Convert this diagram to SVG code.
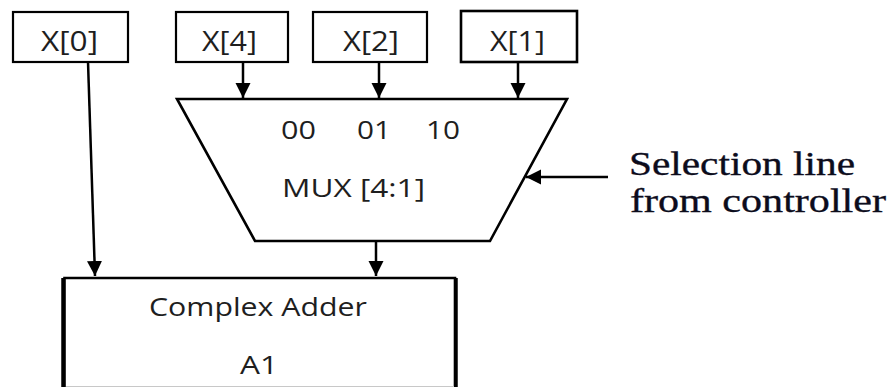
<svg xmlns="http://www.w3.org/2000/svg" width="890" height="387" viewBox="0 0 890 387">
<style>
.box{fill:#fff;stroke:#000;stroke-width:2.2}
.lbl{font-family:"Open Sans","Liberation Sans",sans-serif;font-size:26px;fill:#1e1e1e}
.big{font-size:27px}
.ser{font-family:"Liberation Serif","Times New Roman",serif;font-size:34px;fill:#0c0c1c;stroke:#0c0c1c;stroke-width:0.35}
.wire{stroke:#000;stroke-width:2.5;fill:none}
</style>
<defs>
<marker id="ah" viewBox="0 0 16 16" refX="16" refY="8" markerWidth="15" markerHeight="16" markerUnits="userSpaceOnUse" orient="auto">
<path d="M0,0 L16,8 L0,16 z" fill="#000"/>
</marker>
</defs>
<rect width="890" height="387" fill="#fff"/>
<g id="x0">
<rect class="box" x="13" y="12" width="115" height="50"/>
<text class="lbl big" x="41" y="51" textLength="57" lengthAdjust="spacingAndGlyphs">X[0]</text>
</g>
<g id="x4">
<rect class="box" x="176" y="12" width="112" height="50"/>
<text class="lbl big" x="202" y="51" textLength="55" lengthAdjust="spacingAndGlyphs">X[4]</text>
</g>
<g id="x2">
<rect class="box" x="313" y="12" width="114" height="50"/>
<text class="lbl big" x="343" y="51" textLength="56" lengthAdjust="spacingAndGlyphs">X[2]</text>
</g>
<g id="x1">
<rect class="box" x="461" y="11" width="116" height="51" style="stroke-width:2.6"/>
<text class="lbl big" x="490" y="51" textLength="55" lengthAdjust="spacingAndGlyphs">X[1]</text>
</g>
<g id="mux">
<polygon points="177,99 567,99 490,241 255,241" fill="#fff" stroke="#000" stroke-width="2.6" stroke-linejoin="miter"/>
<text class="lbl" x="281" y="139" textLength="35" lengthAdjust="spacingAndGlyphs">00</text>
<text class="lbl" x="357" y="139" textLength="34" lengthAdjust="spacingAndGlyphs">01</text>
<text class="lbl" x="426" y="139" textLength="34" lengthAdjust="spacingAndGlyphs">10</text>
<text class="lbl" x="282" y="197" textLength="143" lengthAdjust="spacingAndGlyphs">MUX [4:1]</text>
</g>
<g id="adder">
<path d="M64.5,392 V278 H455 V392" fill="#fff" stroke="#000" stroke-width="2.6"/>
<line x1="63" y1="278" x2="63" y2="392" stroke="#000" stroke-width="3.5"/>
<line x1="456" y1="278" x2="456" y2="392" stroke="#000" stroke-width="3.5"/>
<line x1="66" y1="386.5" x2="454" y2="386.5" stroke="#c8c8c8" stroke-width="1"/>
<text class="lbl" x="149" y="316" textLength="218" lengthAdjust="spacingAndGlyphs">Complex Adder</text>
<text class="lbl" x="240" y="374" textLength="38" lengthAdjust="spacingAndGlyphs">A1</text>
</g>
<g id="selection-label">
<text class="ser" x="629" y="175" textLength="226" lengthAdjust="spacingAndGlyphs">Selection line</text>
<text class="ser" x="630" y="212" textLength="256" lengthAdjust="spacingAndGlyphs">from controller</text>
</g>
<g id="connectors">
<line class="wire" x1="88" y1="62" x2="95" y2="276" marker-end="url(#ah)"/>
<line class="wire" x1="243" y1="62" x2="243" y2="98" marker-end="url(#ah)"/>
<line class="wire" x1="379" y1="62" x2="379" y2="98" marker-end="url(#ah)"/>
<line class="wire" x1="518" y1="62" x2="518" y2="98" marker-end="url(#ah)"/>
<line class="wire" x1="376" y1="241" x2="376" y2="276" marker-end="url(#ah)"/>
<line class="wire" x1="608" y1="177" x2="526" y2="177" marker-end="url(#ah)"/>
</g>
</svg>
